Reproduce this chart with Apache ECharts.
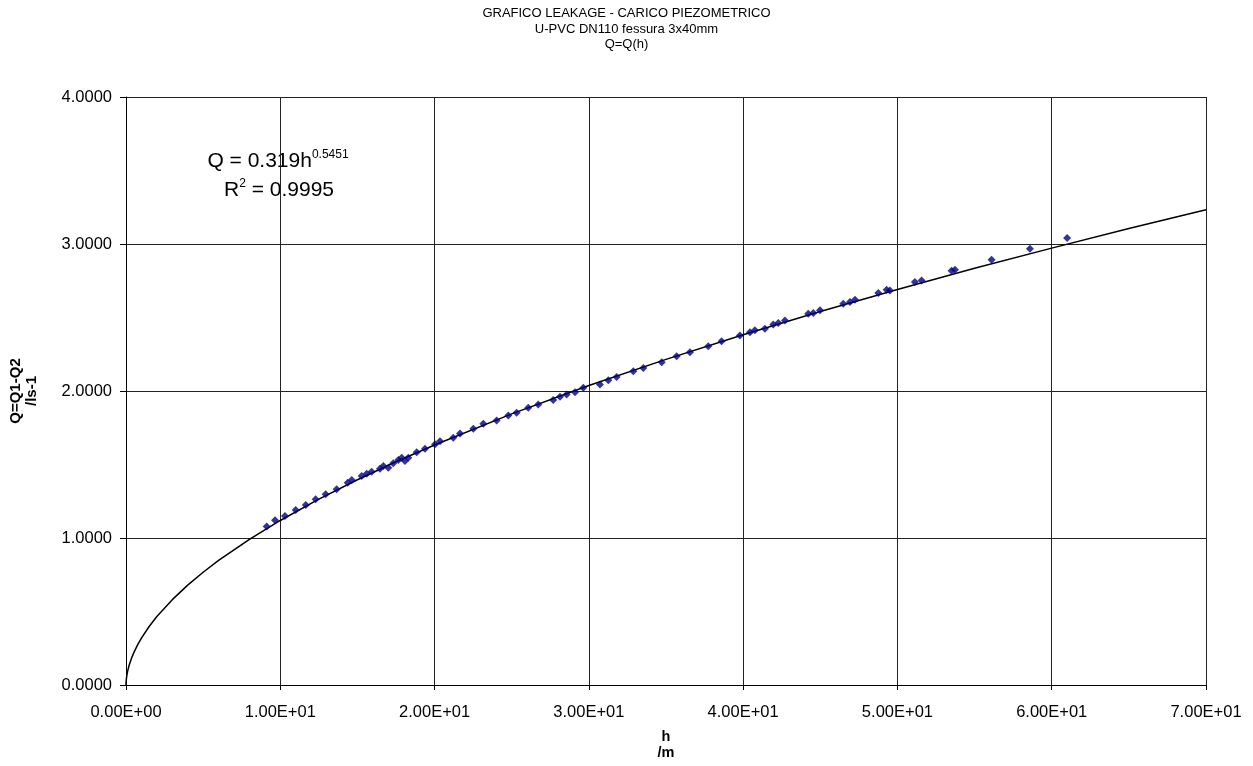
<!DOCTYPE html>
<html>
<head>
<meta charset="utf-8">
<script src="https://cdn.jsdelivr.net/npm/echarts@6/dist/echarts.min.js"></script>
<style>
  html, body { margin: 0; padding: 0; background: #fff; }
  #chart { width: 1253px; height: 766px; }
</style>
</head>
<body>
<div id="chart"></div>
<script>
// misure: h [m], Q [l/s]
var hData = [
  9.12, 9.66, 10.30, 11.00, 11.65, 12.29, 12.94, 13.65, 14.37, 14.63,
  15.27, 15.60, 15.92, 16.46, 16.68, 17.00, 17.32, 17.65, 17.87, 18.08,
  18.30, 18.84, 19.38, 20.03, 20.35, 21.21, 21.65, 22.51, 23.16, 24.02,
  24.78, 25.32, 26.07, 26.72, 27.69, 28.13, 28.56, 29.10, 29.64, 30.72,
  31.26, 31.80, 32.88, 33.53, 34.72, 35.69, 36.55, 37.74, 38.60, 39.79,
  40.44, 40.76, 41.41, 41.95, 42.28, 42.71, 44.22, 44.55, 44.98, 46.49,
  46.92, 47.25, 48.76, 49.30, 49.51, 51.13, 51.57, 53.51, 53.73, 56.10,
  58.59, 61.00
];
var qData = [
  1.078, 1.121, 1.150, 1.191, 1.225, 1.263, 1.297, 1.331, 1.376, 1.394,
  1.421, 1.437, 1.451, 1.471, 1.489, 1.478, 1.508, 1.530, 1.546, 1.523,
  1.546, 1.584, 1.607, 1.637, 1.659, 1.682, 1.711, 1.743, 1.777, 1.800,
  1.834, 1.852, 1.886, 1.908, 1.938, 1.961, 1.976, 1.992, 2.022, 2.044,
  2.073, 2.096, 2.134, 2.157, 2.196, 2.236, 2.264, 2.304, 2.338, 2.377,
  2.399, 2.413, 2.424, 2.452, 2.463, 2.479, 2.526, 2.531, 2.549, 2.594,
  2.606, 2.621, 2.667, 2.689, 2.684, 2.741, 2.752, 2.818, 2.825, 2.893,
  2.968, 3.040
];

// linea di tendenza Q = 0.319 h^0.5451 (valori tabulati)
var trendH = [0, 0.01, 0.02, 0.05, 0.1, 0.2, 0.35, 0.5, 0.75, 1, 1.5, 2, 3, 4, 5, 6, 8,
  10, 12.5, 15, 17.5, 20, 25, 30, 35, 40, 45, 50, 55, 60, 65, 70];
var trendQ = [0, 0.0259, 0.0378, 0.0623, 0.0910, 0.1327, 0.1800, 0.2186, 0.2727, 0.3190,
  0.3979, 0.4655, 0.5806, 0.6792, 0.7670, 0.8472, 0.9910, 1.1192, 1.2641, 1.3961,
  1.5184, 1.6329, 1.8443, 2.0370, 2.2153, 2.3826, 2.5406, 2.6907, 2.8344, 2.9720,
  3.1048, 3.2327];

var titleLines = ["GRAFICO LEAKAGE - CARICO PIEZOMETRICO", "U-PVC DN110 fessura 3x40mm", "Q=Q(h)"];

var points = hData.map(function (h, i) { return [h, qData[i]]; });
var trend = trendH.map(function (h, i) { return [h, trendQ[i]]; });

var font = "Liberation Sans, Arial, sans-serif";
var eqRich = {
  b: { fontFamily: font, fontSize: 21, color: "#000", lineHeight: 24 },
  s: { fontFamily: font, fontSize: 12, color: "#000", lineHeight: 18, verticalAlign: "top" }
};
var myChart = echarts.init(document.getElementById("chart"));

myChart.setOption({
  animation: false,
  backgroundColor: "#fff",
  title: {
    text: titleLines.join("\n"),
    left: "center",
    top: 1,
    textStyle: {
      fontFamily: font,
      fontSize: 13,
      fontWeight: "normal",
      color: "#000",
      lineHeight: 15.5
    }
  },
  grid: { left: 126, right: 47, top: 97, bottom: 80, containLabel: false },
  xAxis: {
    type: "value",
    min: 0,
    max: 70,
    interval: 10,
    name: "h\n/m",
    nameLocation: "middle",
    nameGap: 44,
    nameTextStyle: { fontFamily: font, fontSize: 14.5, fontWeight: "bold", color: "#000", lineHeight: 16 },
    axisLine: { show: true, lineStyle: { color: "#000", width: 1 } },
    axisTick: { show: true, inside: false, length: 5, lineStyle: { color: "#000" } },
    axisLabel: {
      margin: 19,
      fontFamily: font,
      fontSize: 16.5,
      color: "#000",
      formatter: function (v) {
        var s = v.toExponential(2).toUpperCase();
        return s.replace(/E([+-])(\d)$/, "E$10$2");
      }
    },
    splitLine: { show: true, lineStyle: { color: "#222", width: 1 } }
  },
  yAxis: {
    type: "value",
    min: 0,
    max: 4,
    interval: 1,
    name: "Q=Q1-Q2\n/ls-1",
    nameLocation: "middle",
    nameGap: 86,
    nameRotate: 90,
    nameTextStyle: { fontFamily: font, fontSize: 15, fontWeight: "bold", color: "#000", lineHeight: 16 },
    axisLine: { show: true, lineStyle: { color: "#000", width: 1 } },
    axisTick: { show: true, inside: false, length: 6, lineStyle: { color: "#000" } },
    axisLabel: {
      margin: 14,
      fontFamily: font,
      fontSize: 16.5,
      color: "#000",
      formatter: function (v) { return v.toFixed(4); }
    },
    splitLine: { show: true, lineStyle: { color: "#222", width: 1 } }
  },
  graphic: [
    {
      type: "text",
      x: 278,
      y: 149,
      style: {
        text: "{b|Q = 0.319h}{s|0.5451}",
        align: "center",
        verticalAlign: "top",
        rich: eqRich
      }
    },
    {
      type: "text",
      x: 279,
      y: 178,
      style: {
        text: "{b|R}{s|2}{b| = 0.9995}",
        align: "center",
        verticalAlign: "top",
        rich: eqRich
      }
    }
  ],
  series: [
    {
      name: "trend",
      type: "line",
      data: trend,
      showSymbol: false,
      symbol: "none",
      smooth: false,
      lineStyle: { color: "#000", width: 1.5 },
      z: 2
    },
    {
      name: "misure",
      type: "scatter",
      data: points,
      symbol: "diamond",
      symbolSize: 8,
      itemStyle: { color: "#000080" },
      z: 3
    }
  ]
});
</script>
</body>
</html>
